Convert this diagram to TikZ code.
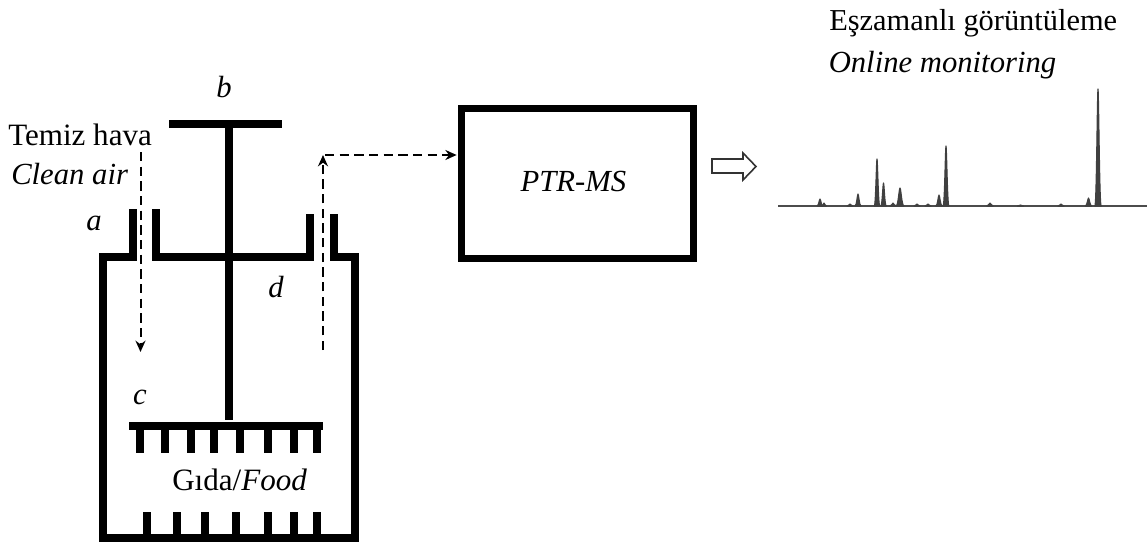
\documentclass[tikz,border=0pt]{standalone}
\usepackage{fontspec}
\setmainfont{Liberation Serif}
\usetikzlibrary{arrows.meta}
\tikzset{
  x=0.75pt,y=-0.75pt,
  thick wall/.style={draw=black,line width=5.6pt,line cap=butt,line join=miter},
  tooth/.style={draw=black,line width=5.4pt,line cap=butt},
  flow/.style={draw=black,line width=1.5pt,dash pattern=on 7pt off 4pt,-{Stealth[length=8.5pt,width=7.5pt]}},
  txt/.style={inner sep=0pt,anchor=base west,font=\fontsize{23}{27}\selectfont},
  mark label/.style={inner sep=0pt,anchor=base,font=\fontsize{23}{27}\selectfont\itshape},
  spec/.style={draw=black!75,fill=black!75,line width=0.8pt,line join=round},
  specbase/.style={draw=black!70,line width=1.3pt}
}
\begin{document}
\begin{tikzpicture}
\useasboundingbox (0,0) rectangle (1147,546);
% vessel
\draw[thick wall] (133,209) -- (133,257) -- (103,257) -- (103,538) -- (355,538) -- (355,257) -- (334,257) -- (334,214);
\draw[thick wall] (156,209) -- (156,257) -- (310,257) -- (310,214);
% plunger
\draw[thick wall] (169,124) -- (282,124);
\draw[tooth] (229,124) -- (229,420);
\draw[thick wall] (129,426) -- (323,426);
\foreach \x in {140,165,191,214,240,268,294,317}
  \draw[tooth] (\x,426) -- (\x,453);
\foreach \x in {147,177,205,236,268,294,317}
  \draw[tooth] (\x,512) -- (\x,538);
% PTR-MS
\node[draw=black,line width=5.2pt,minimum width=174pt,minimum height=112.5pt,inner sep=0pt,anchor=north west,
  font=\fontsize{23}{27}\selectfont\itshape] (ptr) at (458,105) {\raisebox{2.5pt}{PTR-MS\hspace{6pt}}};
% flows
\coordinate (inTop) at (140.5,152);
\coordinate (inEnd) at (140.5,352);
\coordinate (outStart) at (323,350);
\coordinate (outTop) at (323,155);
\coordinate (outCorner) at (325,155);
\draw[flow] (inTop) -- (inEnd);
\draw[flow] (outStart) -- (outTop);
\draw[flow,shorten >=1pt] (outCorner) -- (outCorner -| ptr.west);
% hollow arrow
\draw[black!80,line width=1.2pt,fill=white] (712,159) -- (743,159) -- (743,153) -- (756,166.5) -- (743,180) -- (743,173) -- (712,173) -- cycle;
% spectrum
\coordinate (specL) at (778,206);
\coordinate (specR) at (1147,206);
\draw[specbase] (specL) -- (specR);
\foreach \c/\t/\w in {820/199/1.5,824/203/1.2,850/204/1.5,858/194/1.5,877/159/1.4,883.5/183/1.4,893/203/1.5,900/188/2,917/204/1.5,928/204/1.5,939/195/1.6,946/146/1.5,990/203/1.6,1020.5/205/1.5,1061/204/1.5,1088.5/198/1.6,1098/89/1.6}
  \path[spec] ({\c-2*\w},206) .. controls ({\c-0.9*\w},206) and ({\c-0.5*\w},\t) .. (\c,\t) .. controls ({\c+0.5*\w},\t) and ({\c+0.9*\w},206) .. ({\c+2*\w},206) -- cycle;
% labels
\node[txt,font=\fontsize{22.8}{27}\selectfont] (t1) at (829,31) {Eşzamanlı görüntüleme};
\node[txt,font=\fontsize{23}{27}\selectfont\itshape] (t2) at (828.5,72) {Online monitoring};
\node[txt,font=\fontsize{23.3}{27}\selectfont] (t3) at (8,145) {Temiz hava};
\node[txt,font=\fontsize{23}{27}\selectfont\itshape] (t4) at (11,184) {Clean air};
\node[txt,font=\fontsize{23.3}{27}\selectfont] (t5) at (172,490) {Gıda/\textit{Food}};
\node[mark label] (la) at (94,230) {a};
\node[mark label] (lb) at (224,97) {b};
\node[mark label] (lc) at (140,404) {c};
\node[mark label] (ld) at (276,297) {d};
\end{tikzpicture}
\end{document}
